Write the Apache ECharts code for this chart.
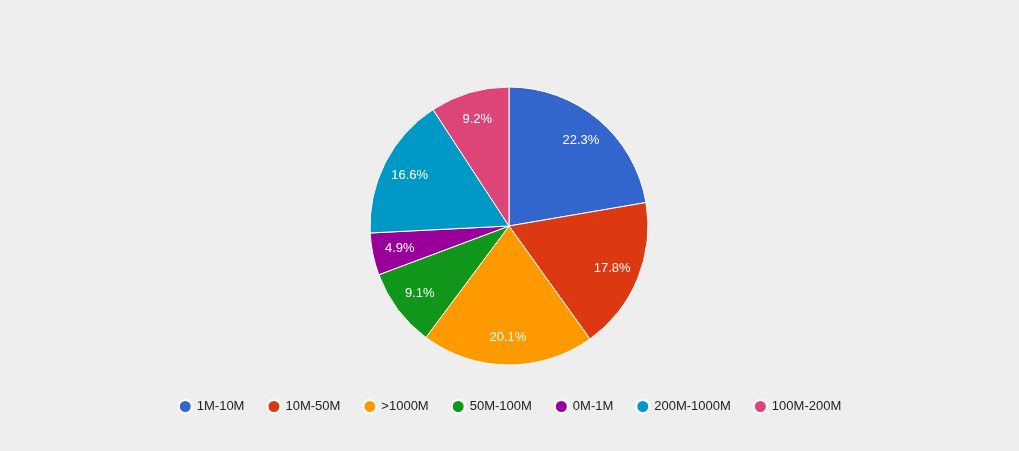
<!DOCTYPE html>
<html>
<head>
<meta charset="utf-8">
<script src="https://cdn.jsdelivr.net/npm/echarts@6/dist/echarts.min.js"></script>
<style>html,body{margin:0;padding:0;background:#eeeeee}</style>
</head>
<body>
<div id="chart" style="width:1019px;height:451px"></div>
<script>
// slices in clockwise order starting at 12 o'clock
var categories = ['1M-10M', '10M-50M', '>1000M', '50M-100M', '0M-1M', '200M-1000M', '100M-200M'];
var shares = [22.3, 17.8, 20.1, 9.1, 4.9, 16.6, 9.2];
var colors = ['#3366cc', '#dc3912', '#ff9900', '#109618', '#990099', '#0099c6', '#dd4477'];

var data = categories.map(function (c, i) { return { name: c, value: shares[i] }; });

var chart = echarts.init(document.getElementById('chart'));
chart.setOption({
    backgroundColor: '#eeeeee',
    color: colors,
    animation: false,
    legend: {
        bottom: 32,
        left: 'center',
        icon: 'circle',
        itemWidth: 13,
        itemHeight: 13,
        itemGap: 22,
        textStyle: { fontFamily: 'Arial, Liberation Sans', fontSize: 13, color: '#222' },
        data: categories
    },
    series: [
        {
            type: 'pie',
            center: [509, 226],
            radius: [0, 139],
            startAngle: 90,
            clockwise: true,
            data: data,
            label: { show: false },
            labelLine: { show: false },
            itemStyle: { borderColor: '#ffffff', borderWidth: 1 },
            emphasis: { disabled: true }
        },
        {
            // transparent ring only used to place labels further out
            type: 'pie',
            center: [509, 226],
            radius: [78, 139],
            startAngle: 90,
            clockwise: true,
            silent: true,
            legendHoverLink: false,
            data: data,
            itemStyle: { color: 'transparent' },
            label: {
                show: true,
                position: 'inside',
                formatter: function (p) { return p.value.toFixed(1) + '%'; },
                color: '#ffffff',
                fontFamily: 'Arial, Liberation Sans',
                fontSize: 13
            },
            labelLine: { show: false }
        }
    ]
});
</script>
</body>
</html>
